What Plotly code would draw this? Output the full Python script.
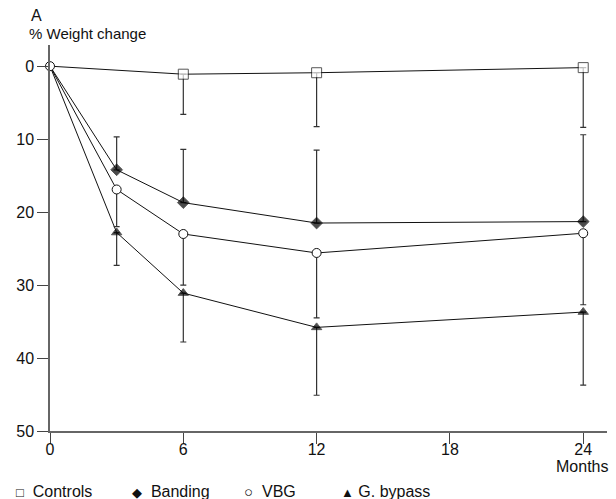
import plotly.graph_objects as go

months = [0, 3, 6, 12, 24]
months_ctrl = [0, 6, 12, 24]

controls = [0, 1.1, 0.9, 0.2]
controls_err = [0, 5.5, 7.4, 8.2]

banding = [0, 14.2, 18.7, 21.5, 21.3]
banding_err = [0, 4.5, 7.3, 10.0, 11.9]

vbg = [0, 16.9, 23.0, 25.6, 22.9]
vbg_err = [0, 5.1, 7.0, 8.9, 9.8]

gbypass = [0, 22.8, 31.1, 35.8, 33.7]
gbypass_err = [0, 4.5, 6.7, 9.3, 10.0]

x_ticks = [0, 6, 12, 18, 24]
y_ticks = [0, 10, 20, 30, 40, 50]

FONT = "Liberation Sans, Arial, sans-serif"
LINE = "#111"
ERR = "#333"

fig = go.Figure()


def add(xs, ys, plus, minus, symbol, size, fill, sizes=None):
    fig.add_trace(go.Scatter(
        x=xs, y=ys, mode="lines+markers", cliponaxis=False,
        line=dict(color=LINE, width=1),
        marker=dict(symbol=symbol, size=sizes if sizes else size, color=fill,
                    line=dict(color=LINE, width=1)),
        error_y=dict(type="data", symmetric=False, array=plus, arrayminus=minus,
                     color=ERR, thickness=1.2, width=3),
        showlegend=False, hoverinfo="skip",
    ))


zeros5 = [0] * 5
add(months_ctrl, controls, controls_err, [0] * 4, "square", 10, "white", [0, 10, 10, 10])
add(months, banding, zeros5, banding_err, "diamond", 9, "black", [0, 9, 9, 9, 9])
add(months, gbypass, gbypass_err, zeros5, "triangle-up", 9, "black", [0, 9, 9, 9, 9])
add(months, vbg, vbg_err, zeros5, "circle", 9, "white")

L, R, T, B = 50, 607, 45, 431
W, H = R - L, B - T


def px(x):
    return (x - L) / W


def py(y):
    return (B - y) / H


annots = [
    dict(text="A", x=px(36), y=py(15.5), xanchor="center", yanchor="middle", size=16),
    dict(text="% Weight change", x=px(27), y=py(33.5), xanchor="left", yanchor="middle", size=15),
    dict(text="Months", x=px(610), y=py(467), xanchor="right", yanchor="middle", size=16),
    dict(text="<span style='font-size:13px'>□</span>  Controls", x=px(14), y=py(491), xanchor="left", yanchor="middle", size=16),
    dict(text="<span style='font-size:13px'>◆</span>  Banding", x=px(130), y=py(491), xanchor="left", yanchor="middle", size=16),
    dict(text="<span style='font-size:15px'>○</span>  VBG", x=px(242), y=py(491), xanchor="left", yanchor="middle", size=16),
    dict(text="<span style='font-size:13px'>▲</span> G. bypass", x=px(339), y=py(491), xanchor="left", yanchor="middle", size=16),
]
for a in annots:
    fig.add_annotation(text=a["text"], x=a["x"], y=a["y"], xref="paper", yref="paper",
                       xanchor=a["xanchor"], yanchor=a["yanchor"], showarrow=False,
                       font=dict(family=FONT, size=a["size"], color="#111"))

axis_common = dict(showgrid=False, zeroline=False, showline=True, linecolor="#666",
                   linewidth=1.5, ticks="outside", ticklen=11, tickcolor="#444",
                   tickwidth=1.2, tickfont=dict(family=FONT, size=16, color="#111"),
                   automargin=False)

fig.update_xaxes(range=[0, 25.07], tickvals=x_ticks, ticktext=[str(v) for v in x_ticks],
                 ticklabelstandoff=-8, **axis_common)
fig.update_yaxes(range=[50, -2.9], tickvals=y_ticks, ticktext=[str(v) for v in y_ticks],
                 **axis_common)

fig.update_layout(
    width=616, height=499,
    margin=dict(l=L, r=616 - R, t=T, b=499 - B),
    plot_bgcolor="white", paper_bgcolor="white",
    font=dict(family=FONT, size=16, color="#111"),
    hovermode=False,
)

fig.write_html("out.html", config={"displayModeBar": False},
               post_script="document.body.style.margin='0';document.body.style.overflow='hidden';")
